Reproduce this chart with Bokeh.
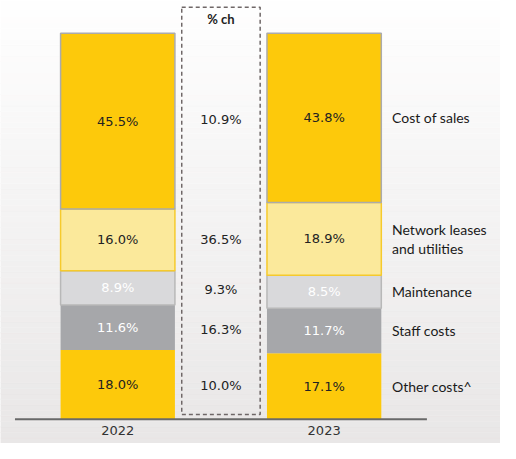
import numpy as np
from bokeh.plotting import figure
from bokeh.models import ColumnDataSource
from bokeh.core.properties import value
from bokeh.embed import file_html
from bokeh.resources import INLINE

# ---- data ----
years = ["2022", "2023"]
categories = ["Other costs^", "Staff costs", "Maintenance", "Network leases\nand utilities", "Cost of sales"]  # bottom -> top
share_2022 = [18.0, 11.6, 8.9, 16.0, 45.5]
share_2023 = [17.1, 11.7, 8.5, 18.9, 43.8]
pct_change = ["10.0%", "16.3%", "9.3%", "36.5%", "10.9%"]

# ---- styles ----
fills = ["#FDC90B", "#A6A7AA", "#D9D9DB", "#FBE99B", "#FDC90B"]
borders = [None, None, "#B8B8B8", "#F6CA2C", "#ABABAB"]
text_cols = ["#222222", "#FFFFFF", "#FFFFFF", "#222222", "#222222"]

bar_w = 0.554
xs = [0, 1]
x0, x1 = -0.5681, 1.8545
y0, y1 = -6.25, 108.5

p = figure(width=500, height=443, x_range=(x0, x1), y_range=(y0, y1),
           output_backend="svg", toolbar_location=None, min_border=0,
           outline_line_color=None)
p.axis.visible = False
p.grid.visible = False
p.background_fill_color = "#FFFFFF"
p.border_fill_color = "#FFFFFF"

# background gradient (white at top -> warm light grey at bottom)
nb = 80
edges = np.linspace(y0, y1, nb + 1)
tt = 1 - (edges[:-1] + edges[1:]) / 2 / 1.0
frac = (y1 - (edges[:-1] + edges[1:]) / 2) / (y1 - y0)
cols = ["#%02X%02X%02X" % (int(255 - 22 * f), int(255 - 24 * f), int(255 - 24 * f)) for f in frac]
p.quad(left=[x0] * nb, right=[x1] * nb, bottom=edges[:-1], top=edges[1:],
       fill_color=cols, line_color=cols, line_width=0.5)

for xi, vals in zip(xs, [share_2022, share_2023]):
    tops = np.cumsum(vals)
    bottoms = tops - np.array(vals)
    src = ColumnDataSource(dict(
        left=[xi - bar_w / 2] * len(vals), right=[xi + bar_w / 2] * len(vals),
        bottom=bottoms, top=tops, fill=fills,
        line=[c if c else f for c, f in zip(borders, fills)],
        lw=[1.5 if c else 0.0 for c in borders],
        mid=(bottoms + tops) / 2,
        lab=[f"{v:.1f}%" for v in vals], tc=text_cols, x=[xi] * len(vals)))
    p.quad(left="left", right="right", bottom="bottom", top="top", source=src,
           fill_color="fill", line_color="line", line_width="lw")
    p.text(x="x", y="mid", text="lab", text_color="tc", source=src,
           text_font=value("DejaVu Sans"), text_font_size="13px",
           text_align="center", text_baseline="middle")

# segment centres
c22 = np.cumsum(share_2022) - np.array(share_2022) / 2
c23 = np.cumsum(share_2023) - np.array(share_2023) / 2

# % change column
mid_x = 0.5
box_w = 0.38
p.quad(left=[mid_x - box_w / 2], right=[mid_x + box_w / 2], bottom=[1.25], top=[106.75],
       fill_color=None, line_color="#6F6767", line_width=1.5, line_dash="4 3")
p.text(x=[mid_x] * len(pct_change), y=list((c22 + c23) / 2), text=pct_change,
       text_font=value("DejaVu Sans"), text_font_size="13px", text_color="#222222",
       text_align="center", text_baseline="middle")
p.text(x=[mid_x], y=[103.75], text=["% ch"], text_font=value("Lato"),
       text_font_style="bold", text_font_size="13px", text_color="#222222",
       text_align="center", text_baseline="middle")

# category labels
p.text(x=[1 + bar_w / 2 + 0.052] * len(categories), y=list(c23), text=categories,
       text_font=value("Lato"), text_font_size="14px", text_color="#1A1A1A",
       text_align="left", text_baseline="middle", text_line_height=1.15)

# baseline + year labels
p.segment(x0=[-0.498], y0=[0], x1=[1.498], y1=[0], line_color="#6A6A6A", line_width=2)
p.text(x=xs, y=[-3.0] * 2, text=years, text_font=value("DejaVu Sans"),
       text_font_size="13px", text_color="#333333",
       text_align="center", text_baseline="middle")

open("out.html", "w").write(file_html(p, INLINE))
